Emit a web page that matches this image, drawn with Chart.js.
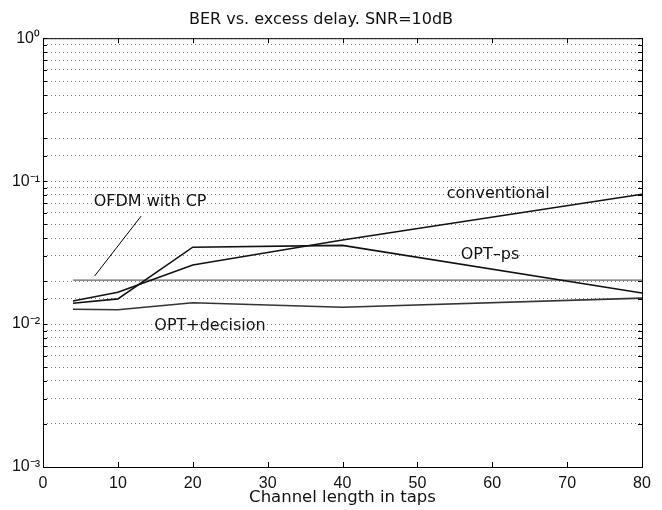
<!DOCTYPE html>
<html>
<head>
<meta charset="utf-8">
<script src="https://cdn.jsdelivr.net/npm/chart.js@4/dist/chart.umd.min.js"></script>
<style>
  html, body { margin: 0; padding: 0; background: #fff; overflow: hidden; }
  #wrap { position: absolute; left: 0; top: 0; width: 662px; height: 510px; }
</style>
</head>
<body>
<div id="wrap"><canvas id="ber"></canvas></div>
<script>
// channel length in taps
var taps = [4, 10, 20, 40, 80];

// BER curves
var conventional = [0.0145, 0.0167, 0.0259, 0.0387, 0.081];
var optPs = [0.014, 0.015, 0.0345, 0.0355, 0.0165];
var optDecision = [0.0127, 0.0126, 0.0141, 0.0131, 0.0152];
var ofdmCp = [0.0203, 0.0203, 0.0203, 0.0203, 0.0203];

var yTickLabels = { '0': '10\u2070', '-1': '10\u207B\u00B9', '-2': '10\u207B\u00B2', '-3': '10\u207B\u00B3' };

// text labels on the curves [text, x, y]
var curveLabels = [
  ['conventional', 60.8, 0.0811],
  ['OPT\u2013ps', 59.7, 0.0304],
  ['OPT+decision', 22.3, 0.00968],
  ['OFDM with CP', 14.3, 0.0713]
];
var pointer = [[6.9, 0.0217], [13.1, 0.0569]];

var FONT = '"DejaVu Sans", "Liberation Sans", Arial, sans-serif';

function pts(ys) {
  return taps.map(function (t, i) { return { x: t, y: ys[i] }; });
}

var labelsPlugin = {
  id: 'curveLabels',
  afterDatasetsDraw: function (chart) {
    var ctx = chart.ctx, xs = chart.scales.x, ys = chart.scales.y, a = chart.chartArea;
    ctx.save();
    ctx.strokeStyle = '#000';
    ctx.lineWidth = 1;
    ctx.strokeRect(a.left + 0.5, a.top + 0.5, a.right - a.left, a.bottom - a.top);
    // inward tick marks
    ctx.beginPath();
    xs.ticks.forEach(function (t) {
      var px = Math.round(xs.getPixelForValue(t.value)) + 0.5;
      ctx.moveTo(px, a.bottom); ctx.lineTo(px, a.bottom - 5);
      ctx.moveTo(px, a.top); ctx.lineTo(px, a.top + 5);
    });
    ys.ticks.forEach(function (t) {
      var py = Math.round(ys.getPixelForValue(t.value)) + 0.5;
      ctx.moveTo(a.left, py); ctx.lineTo(a.left + 4, py);
      ctx.moveTo(a.right, py); ctx.lineTo(a.right - 4, py);
    });
    ctx.stroke();

    ctx.font = '16px ' + FONT;
    ctx.fillStyle = '#111';
    ctx.textAlign = 'center';
    ctx.textBaseline = 'middle';
    curveLabels.forEach(function (l) {
      ctx.fillText(l[0], xs.getPixelForValue(l[1]), ys.getPixelForValue(l[2]));
    });
    ctx.beginPath();
    ctx.moveTo(xs.getPixelForValue(pointer[0][0]), ys.getPixelForValue(pointer[0][1]));
    ctx.lineTo(xs.getPixelForValue(pointer[1][0]), ys.getPixelForValue(pointer[1][1]));
    ctx.stroke();
    ctx.restore();
  }
};

var lineStyle = { borderWidth: 1.6, pointRadius: 0, tension: 0, fill: false };

new Chart(document.getElementById('ber'), {
  type: 'line',
  data: {
    datasets: [
      Object.assign({ label: 'conventional', data: pts(conventional), borderColor: '#111' }, lineStyle),
      Object.assign({ label: 'OPT-ps', data: pts(optPs), borderColor: '#111' }, lineStyle),
      Object.assign({ label: 'OPT+decision', data: pts(optDecision), borderColor: '#333' }, lineStyle),
      Object.assign({ label: 'OFDM with CP', data: pts(ofdmCp), borderColor: '#666' }, lineStyle, { borderWidth: 1.3 })
    ]
  },
  options: {
    responsive: true,
    maintainAspectRatio: false,
    animation: false,
    layout: { padding: { top: 0, right: 20, bottom: 0, left: 0 } },
    plugins: {
      legend: { display: false },
      tooltip: { enabled: false },
      title: {
        display: true,
        text: 'BER vs. excess delay. SNR=10dB',
        color: '#111',
        font: { family: FONT, size: 16, weight: 'normal' },
        padding: { top: 10, bottom: 9 }
      }
    },
    scales: {
      x: {
        type: 'linear',
        min: 0,
        max: 80,
        ticks: { stepSize: 10, color: '#111', padding: -1, font: { family: '"Liberation Sans", Arial, sans-serif', size: 16 } },
        grid: { display: false },
        border: { display: false },
        title: {
          display: true,
          text: 'Channel length in taps',
          color: '#111',
          font: { family: FONT, size: 16.5 },
          padding: { top: 0, bottom: 2 }
        },
        afterFit: function (s) { s.height = 43; }
      },
      y: {
        type: 'logarithmic',
        min: 0.001,
        max: 1,
        ticks: {
          autoSkip: false,
          color: '#111',
          padding: 3,
          font: { family: '"Liberation Sans", Arial, sans-serif', size: 16 },
          callback: function (v) {
            var e = Math.log10(v);
            if (Math.abs(e - Math.round(e)) < 1e-9) return yTickLabels[String(Math.round(e))];
            return '';
          }
        },
        grid: { color: '#777', borderDash: [1, 3], lineWidth: 1, drawTicks: false },
        border: { display: false, dash: [1, 3] },
        afterFit: function (s) { s.width = 43; }
      }
    }
  },
  plugins: [labelsPlugin]
});
</script>
</body>
</html>
